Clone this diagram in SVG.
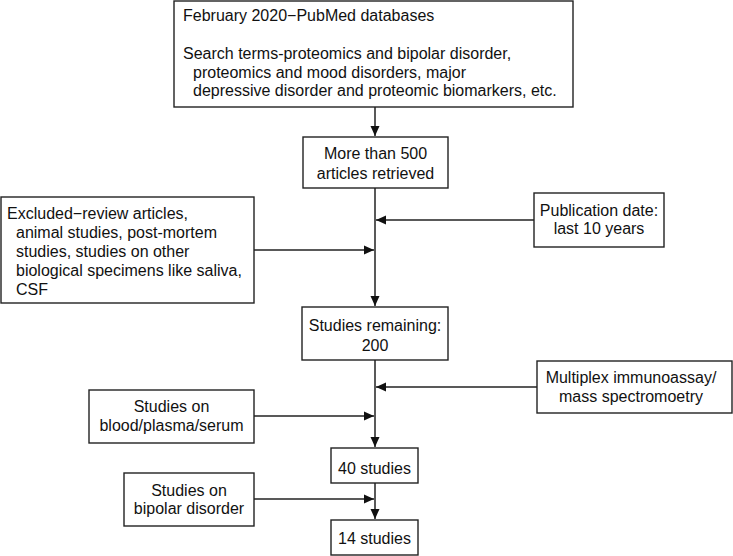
<svg xmlns="http://www.w3.org/2000/svg" width="733" height="556" viewBox="0 0 733 556">
<style>
rect{fill:#fff;stroke:#222;stroke-width:1.4}
text{font-family:"Liberation Sans",Arial,sans-serif;font-size:16px;fill:#111}
.c{text-anchor:middle}
.ln{stroke:#222;stroke-width:1.5;fill:none}
</style>
<defs>
<marker id="ah" viewBox="0 0 10 10" refX="10" refY="5" markerWidth="10" markerHeight="10" markerUnits="userSpaceOnUse" orient="auto">
<path d="M0,0.5 L10,5 L0,9.5 Z" fill="#111"/>
</marker>
</defs>
<rect width="733" height="556" style="fill:#fff;stroke:none"/>
<g id="connectors">
<line class="ln" x1="375" y1="107" x2="375" y2="136" marker-end="url(#ah)"/>
<line class="ln" x1="375" y1="188" x2="375" y2="306" marker-end="url(#ah)"/>
<line class="ln" x1="534" y1="220" x2="376" y2="220" marker-end="url(#ah)"/>
<line class="ln" x1="254" y1="250" x2="374" y2="250" marker-end="url(#ah)"/>
<line class="ln" x1="375" y1="360" x2="375" y2="447" marker-end="url(#ah)"/>
<line class="ln" x1="537" y1="387" x2="376" y2="387" marker-end="url(#ah)"/>
<line class="ln" x1="254" y1="416" x2="374" y2="416" marker-end="url(#ah)"/>
<line class="ln" x1="375" y1="483" x2="375" y2="519" marker-end="url(#ah)"/>
<line class="ln" x1="254" y1="499" x2="374" y2="499" marker-end="url(#ah)"/>
</g>
<g id="search">
<rect x="174" y="1" width="399" height="106"/>
<text x="183" y="21">February 2020−PubMed databases</text>
<text x="183" y="59">Search terms-proteomics and bipolar disorder,</text>
<text x="193" y="78">proteomics and mood disorders, major</text>
<text x="193" y="96">depressive disorder and proteomic biomarkers, etc.</text>
</g>
<g id="retrieved">
<rect x="303" y="137" width="145" height="51"/>
<text class="c" x="375.5" y="159">More than 500</text>
<text class="c" x="375.5" y="179">articles retrieved</text>
</g>
<g id="excluded">
<rect x="1" y="197" width="253" height="106"/>
<text x="7" y="219">Excluded−review articles,</text>
<text x="16" y="238">animal studies, post-mortem</text>
<text x="16" y="257">studies, studies on other</text>
<text x="16" y="276">biological specimens like saliva,</text>
<text x="16" y="295">CSF</text>
</g>
<g id="pubdate">
<rect x="534" y="193" width="130" height="54"/>
<text class="c" x="599" y="216">Publication date:</text>
<text class="c" x="599" y="234">last 10 years</text>
</g>
<g id="remaining">
<rect x="302" y="307" width="146" height="53"/>
<text class="c" x="375" y="331">Studies remaining:</text>
<text class="c" x="375" y="351">200</text>
</g>
<g id="multiplex">
<rect x="537" y="361" width="195" height="52"/>
<text class="c" x="631" y="383">Multiplex immunoassay/</text>
<text class="c" x="631" y="402">mass spectromoetry</text>
</g>
<g id="blood">
<rect x="89" y="390" width="165" height="53"/>
<text class="c" x="171.5" y="412">Studies on</text>
<text class="c" x="171.5" y="431">blood/plasma/serum</text>
</g>
<g id="forty">
<rect x="331" y="448" width="87" height="35"/>
<text class="c" x="374.5" y="474">40 studies</text>
</g>
<g id="bipolar">
<rect x="124" y="473" width="130" height="53"/>
<text class="c" x="189" y="496">Studies on</text>
<text class="c" x="189" y="514">bipolar disorder</text>
</g>
<g id="fourteen">
<rect x="331" y="520" width="87" height="35"/>
<text class="c" x="374.5" y="544">14 studies</text>
</g>
</svg>
